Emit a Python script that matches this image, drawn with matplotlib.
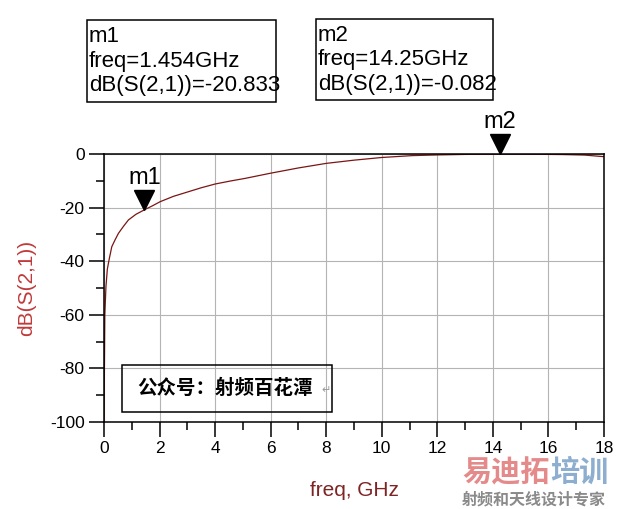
import matplotlib.pyplot as plt
from matplotlib.patches import Rectangle
from matplotlib.ticker import MultipleLocator
import matplotlib.transforms as mtransforms

plt.rcParams['font.family'] = ['Liberation Sans', 'DejaVu Sans']
plt.rcParams['axes.unicode_minus'] = False

# dB(S(2,1)) vs freq (GHz)
freq = [0.0, 0.03, 0.07, 0.12, 0.18, 0.28, 0.4, 0.52, 0.7, 0.88, 1.15, 1.454,
        1.75, 2.02, 2.5, 3.0, 3.5, 4.0, 4.54, 5.08, 5.98, 7.0, 8.0, 9.0, 10.0,
        11.1, 12.0, 13.0, 14.25, 15.5, 16.5, 17.3, 18.0]
s21_db = [-100, -60, -49.5, -43, -39.6, -34.6, -32, -29.6, -27, -24.6, -22.5,
          -20.833, -19.3, -17.8, -15.8, -14.2, -12.6, -11.2, -10.1, -9.1, -7.2,
          -5.2, -3.5, -2.3, -1.3, -0.6, -0.35, -0.15, -0.082, -0.1, -0.2, -0.4,
          -1.0]

markers = ["m1", "m2"]
marker_freq = [1.454, 14.25]
marker_db = [-20.833, -0.082]
marker_freq_txt = ["1.454GHz", "14.25GHz"]
marker_db_txt = ["-20.833", "-0.082"]

W, H = 619, 509
fig = plt.figure(figsize=(W / 100, H / 100), dpi=100)
fig.patch.set_facecolor("white")


def fx(px):
    return px / W


def fy(py):
    return 1 - py / H


ax = fig.add_axes([fx(104), fy(422), fx(604) - fx(104), fy(154) - fy(422)])
ax.plot(freq, s21_db, color="#7a1515", lw=0.9)

ax.set_xlim(0, 18)
ax.set_ylim(-100, 0)
ax.xaxis.set_major_locator(MultipleLocator(2))
ax.xaxis.set_minor_locator(MultipleLocator(1))
ax.yaxis.set_major_locator(MultipleLocator(20))
ax.yaxis.set_minor_locator(MultipleLocator(10))
ax.grid(True, which="major", color="#b4b4b4", lw=0.8)
ax.tick_params(which="major", direction="out", length=11, width=1.1, labelsize=12.5, pad=3)
ax.tick_params(which="minor", direction="out", length=6, width=1.1)
for s in ax.spines.values():
    s.set_linewidth(1.1)

ax.set_ylabel("dB(S(2,1))", color="#c03a3a", fontsize=15, labelpad=10)
ax.set_xlabel("freq, GHz", color="#7d2424", fontsize=15, labelpad=18)

# marker triangles + names
for name, mf, md in zip(markers, marker_freq, marker_db):
    tr = mtransforms.offset_copy(ax.transData, fig=fig, x=0, y=7, units="points")
    ax.plot([mf], [md], marker="v", ms=14, color="black", transform=tr, clip_on=False)
    ax.annotate(name, xy=(mf, md), xytext=(0, 15), textcoords="offset points",
                ha="center", va="bottom", fontsize=17, annotation_clip=False)

# marker readout boxes
boxes = [(87, 20, 276, 102), (316, 19, 493, 100)]
for (x0, y0, x1, y1), name, ft, dt in zip(boxes, markers, marker_freq_txt, marker_db_txt):
    fig.add_artist(Rectangle((fx(x0), fy(y1)), fx(x1) - fx(x0), fy(y0) - fy(y1),
                             transform=fig.transFigure, fill=False, ec="black", lw=1.1))
    fig.text(fx(x0 + 2), fy(y0 + 41), f"{name}\nfreq={ft}\ndB(S(2,1))={dt}",
             fontsize=16, va="center", ha="left", linespacing=1.2)

# note box inside the plot
ax.add_patch(Rectangle((0.65, -96.3), 7.55, 17.6, fill=False, ec="black", lw=1.1, zorder=5))
ax.text(1.2, -87.3, "公众号：射频百花潭", fontsize=14, fontweight="bold",
        family=["Noto Sans CJK SC", "DejaVu Sans"], va="center", ha="left", zorder=6)
ax.text(8.0, -88.0, "↵", fontsize=8, color="#999999", va="center", ha="center",
        family=["DejaVu Sans"], zorder=6)

# watermark
fig.text(fx(462), fy(472), "易迪拓", fontsize=21, fontweight="bold", color="#e58a8a",
         family=["Noto Sans CJK SC"], va="center", ha="left")
fig.text(fx(550), fy(472), "培训", fontsize=21, fontweight="bold", color="#8eaed0",
         family=["Noto Sans CJK SC"], va="center", ha="left")
fig.text(fx(462), fy(499), "射频和天线设计专家", fontsize=11.5, fontweight="bold",
         color="#8a8a8a", family=["Noto Sans CJK SC"], va="center", ha="left")

fig.savefig("out.png", dpi=100, facecolor="white")
